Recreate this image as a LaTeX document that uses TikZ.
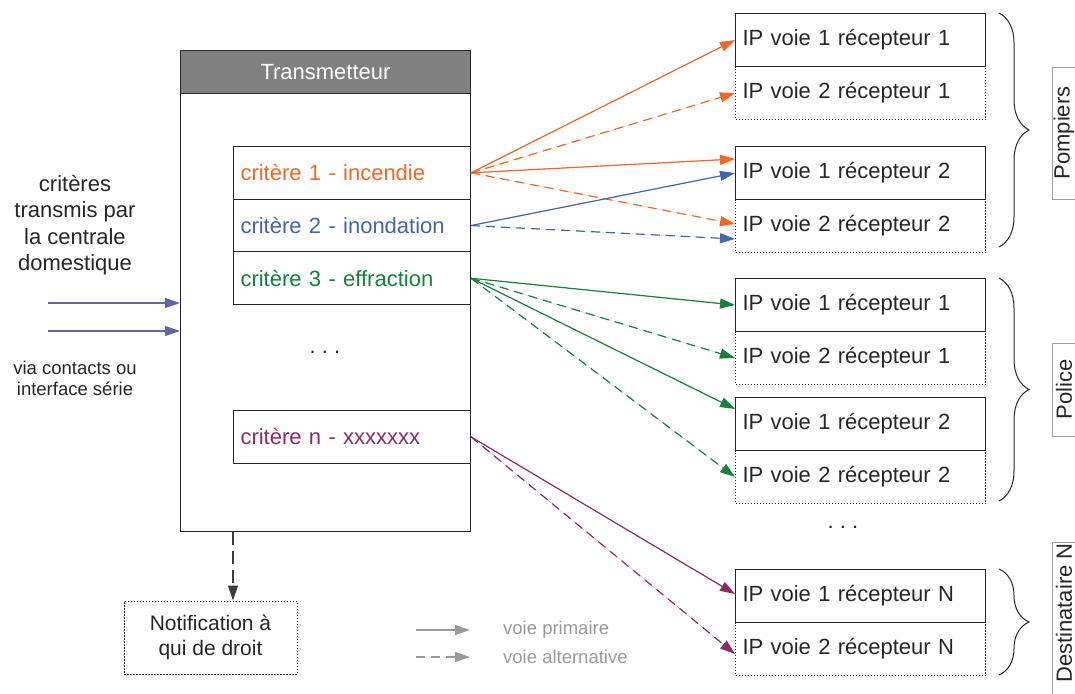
\documentclass[tikz,border=0pt]{standalone}
\usepackage{fontspec}
\setmainfont{Liberation Sans}
\usetikzlibrary{arrows.meta,decorations.pathreplacing,calc}
\definecolor{cOr}{RGB}{242,101,34}
\definecolor{cBl}{RGB}{68,100,176}
\definecolor{cGr}{RGB}{22,128,60}
\definecolor{cPu}{RGB}{142,42,96}
\definecolor{cIn}{RGB}{100,100,160}
\definecolor{cDark}{RGB}{38,38,38}
\definecolor{cHdr}{RGB}{128,128,128}
\definecolor{cLeg}{RGB}{153,153,153}
\definecolor{cLab}{RGB}{160,160,160}
\newcommand\fsL{\fontsize{22}{26.5}\selectfont}
\newcommand\fsM{\fontsize{21}{25}\selectfont}
\newcommand\fsS{\fontsize{18.5}{21}\selectfont}
\begin{document}
\begin{tikzpicture}[x=1pt,y=-1pt,
  every node/.style={text=cDark},
  boxline/.style={draw=cDark, line width=1pt},
  dotline/.style={draw=cDark, line width=1pt, dash pattern=on 1.5pt off 1.5pt},
  rbox/.style={anchor=north west, minimum height=53pt, text width=236pt, inner xsep=7pt, inner ysep=0pt, align=left, font=\fsL},
  rsolid/.style={rbox, boxline},
  rdot/.style={rbox, dotline},
  crit/.style={anchor=north west, boxline, minimum height=52.7pt, text width=223pt, inner xsep=7pt, inner ysep=0pt, align=left, font=\fsL},
  arr/.style={-{Triangle[length=15pt,width=10pt]}, line width=1.2pt},
  alt/.style={arr, dash pattern=on 9pt off 6pt},
  bracestyle/.style={draw=cDark, line width=1pt, decorate, decoration={brace, amplitude=30pt, aspect=0.5}},
  labline/.style={draw=cLab, line width=1pt},
  labtext/.style={rotate=90, font=\fsL, text=cDark, inner sep=0pt},
  legtext/.style={anchor=west, text=cLeg, font=\fsS, inner sep=0pt}
]
\useasboundingbox (0,0) rectangle (1075,693);

% Transmetteur
\node[boxline, anchor=north west, minimum width=290pt, minimum height=481pt, inner sep=0pt] (body) at (180,50) {};
\node[boxline, fill=cHdr, anchor=north west, minimum width=290pt, minimum height=43pt, inner sep=0pt, font=\fsL, text=white] (hdr) at (180,50) {Transmetteur};

\node[crit, text=cOr] (c1) at (233,146) {critère 1 - incendie};
\node[crit, text=cBl] (c2) at (233,198.7) {critère 2 - inondation};
\node[crit, text=cGr] (c3) at (233,251.4) {critère 3 - effraction};
\node[crit, text=cPu] (cn) at (233,410) {critère n - xxxxxxx};
\node[font=\fsL, inner sep=0pt] (dots1) at (325,352) {.\ .\ .};

% Left texts and inputs
\node[font=\fsL, align=center] (src) at (75,225) {critères\\transmis par\\la centrale\\domestique};
\node[font=\fsS, align=center] (via) at (75,378) {via contacts ou\\interface série};
\coordinate (in1) at (48,303);
\coordinate (in2) at (48,331);
\draw[arr, draw=cIn, fill=cIn] (in1) -- (in1 -| body.west);
\draw[arr, draw=cIn, fill=cIn] (in2) -- (in2 -| body.west);

% Notification
\node[dotline, minimum width=173pt, minimum height=73pt, align=center, font=\fsM] (notif) at (210.5,637.5) {Notification à\\qui de droit};
\coordinate (nfrom) at ($(body.south west)+(53,0)$);
\draw[-{Triangle[length=15pt,width=10pt]}, line width=1.2pt, draw=cDark!90, fill=cDark!90, dash pattern=on 13pt off 6pt] (nfrom) -- (nfrom |- notif.north);

% Right boxes (dotted first, solid on top)
\node[rdot] (p1b) at (735,66) {IP voie 2 récepteur 1};
\node[rsolid] (p1a) at (735,13) {IP voie 1 récepteur 1};
\node[rdot] (p2b) at (735,199) {IP voie 2 récepteur 2};
\node[rsolid] (p2a) at (735,146) {IP voie 1 récepteur 2};
\node[rdot] (q1b) at (735,331) {IP voie 2 récepteur 1};
\node[rsolid] (q1a) at (735,278) {IP voie 1 récepteur 1};
\node[rdot] (q2b) at (735,450) {IP voie 2 récepteur 2};
\node[rsolid] (q2a) at (735,397) {IP voie 1 récepteur 2};
\node[rdot] (nb) at (735,622) {IP voie 2 récepteur N};
\node[rsolid] (na) at (735,569) {IP voie 1 récepteur N};
\node[font=\fsL, inner sep=0pt] (dots2) at (843,527) {.\ .\ .};

% Braces
\draw[bracestyle] (999,13) -- (999,247);
\draw[bracestyle] (999,278) -- (999,501);
\draw[bracestyle] (999,569) -- (999,675);

% Group labels
\draw[labline] (1052,67) rectangle (1090,199);
\node[labtext] (lp) at (1064,133) {Pompiers};
\draw[labline] (1052,343) rectangle (1090,436);
\node[labtext] (lq) at (1064,389.5) {Police};
\draw[labline] (1052,542) rectangle (1090,700);
\node[labtext] (ln) at (1064,613) {Destinataire N};

% Connectors: critère 1 (orange)
\draw[arr, draw=cOr, fill=cOr] (c1.east) -- (p1a.west);
\draw[alt, draw=cOr, fill=cOr] (c1.east) -- (p1b.west);
\draw[arr, draw=cOr, fill=cOr] (c1.east) -- ([yshift=14pt]p2a.west);
\draw[alt, draw=cOr, fill=cOr] (c1.east) -- ([yshift=2pt]p2b.west);
% critère 2 (blue)
\draw[arr, draw=cBl, fill=cBl] (c2.east) -- (p2a.west);
\draw[alt, draw=cBl, fill=cBl] (c2.east) -- ([yshift=-13pt]p2b.west);
% critère 3 (green)
\draw[arr, draw=cGr, fill=cGr] (c3.east) -- (q1a.west);
\draw[alt, draw=cGr, fill=cGr] (c3.east) -- (q1b.west);
\draw[arr, draw=cGr, fill=cGr] (c3.east) -- ([yshift=15pt]q2a.west);
\draw[alt, draw=cGr, fill=cGr] (c3.east) -- (q2b.west);
% critère n (purple)
\draw[arr, draw=cPu, fill=cPu] (cn.east) -- ([yshift=2pt]na.west);
\draw[alt, draw=cPu, fill=cPu] (cn.east) -- ([yshift=-5pt]nb.west);

% Legend
\coordinate (l1a) at (416,630);
\coordinate (l1b) at (470,630);
\coordinate (l2a) at (416,657);
\coordinate (l2b) at (470,657);
\draw[arr, draw=cLeg, fill=cLeg] (l1a) -- (l1b);
\draw[alt, draw=cLeg, fill=cLeg] (l2a) -- (l2b);
\node[legtext] (lt1) at (503,630) {voie primaire};
\node[legtext] (lt2) at (503,657) {voie alternative};
\end{tikzpicture}
\end{document}
